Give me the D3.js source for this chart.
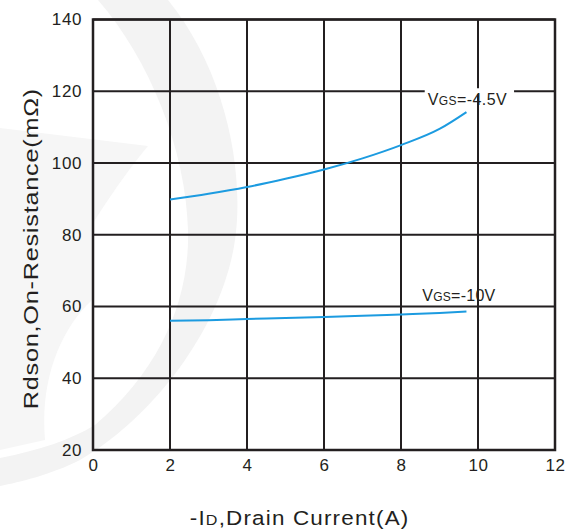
<!DOCTYPE html>
<html>
<head>
<meta charset="utf-8">
<script src="https://cdn.jsdelivr.net/npm/d3@7"></script>
<style>
  body { margin: 0; background: #fff; }
  text { font-family: "Liberation Sans", Arial, sans-serif; fill: #231f20; }
</style>
</head>
<body>
<div id="chart"></div>
<script>
// data
const current = [2, 3, 4, 5, 6, 7, 8, 9, 9.7];
const vgs45 = [89.8, 91.4, 93.3, 95.6, 98.2, 101.3, 105.0, 109.5, 114.2];
const vgs10 = [56.0, 56.2, 56.5, 56.8, 57.1, 57.4, 57.8, 58.2, 58.6];
const xTicks = [0, 2, 4, 6, 8, 10, 12];
const yTicks = [20, 40, 60, 80, 100, 120, 140];

const margin = { top: 19.5, right: 11, bottom: 79, left: 93 };
const W = 566, H = 529;
const width = W - margin.left - margin.right;
const height = H - margin.top - margin.bottom;

const root = d3.select('#chart').append('svg')
  .attr('width', W).attr('height', H);

// faint watermark in the background
root.append('path')
  .attr('d', 'M168,0 C225,70 245,170 235,240 C222,330 150,420 80,460 C50,475 20,482 0,486 ' +
             'L0,458 C40,450 70,440 95,425 C160,370 190,300 188,230 C186,150 150,60 98,0 Z')
  .attr('fill', '#f3f3f3');
root.append('path')
  .attr('d', 'M0,128 L148,146 C120,180 100,212 92,225 L92,300 C60,330 40,380 45,440 L0,450 Z')
  .attr('fill', '#f6f6f6');

const svg = root.append('g')
  .attr('transform', `translate(${margin.left}, ${margin.top})`);

const x = d3.scaleLinear().domain([0, 12]).range([0, width]);
const y = d3.scaleLinear().domain([20, 140]).range([height, 0]);

// grid
svg.append('g').selectAll('line')
  .data(xTicks)
  .join('line')
  .attr('x1', d => x(d)).attr('x2', d => x(d))
  .attr('y1', 0).attr('y2', height)
  .attr('stroke', '#231f20').attr('stroke-width', 2);

svg.append('g').selectAll('line')
  .data(yTicks)
  .join('line')
  .attr('x1', 0).attr('x2', width)
  .attr('y1', d => y(d)).attr('y2', d => y(d))
  .attr('stroke', '#231f20').attr('stroke-width', 2);

svg.append('rect')
  .attr('width', width).attr('height', height)
  .attr('fill', 'none').attr('stroke', '#231f20').attr('stroke-width', 2.5);

// axes (labels only)
const xAxis = svg.append('g')
  .attr('transform', `translate(0, ${height})`)
  .call(d3.axisBottom(x).tickValues(xTicks).tickSize(0).tickPadding(9));
const yAxis = svg.append('g')
  .call(d3.axisLeft(y).tickValues(yTicks).tickSize(0).tickPadding(11));
[xAxis, yAxis].forEach(a => {
  a.select('.domain').remove();
  a.selectAll('text')
    .attr('font-size', 17)
    .attr('letter-spacing', 0.6)
    .attr('font-family', '"Liberation Sans", Arial, sans-serif')
    .attr('fill', '#231f20');
});

// curves
const line = d3.line()
  .x(d => x(d[0]))
  .y(d => y(d[1]))
  .curve(d3.curveMonotoneX);

svg.append('path')
  .datum(d3.zip(current, vgs45))
  .attr('d', line)
  .attr('fill', 'none').attr('stroke', '#1c9be0').attr('stroke-width', 2);

svg.append('path')
  .datum(d3.zip(current, vgs10))
  .attr('d', line)
  .attr('fill', 'none').attr('stroke', '#1c9be0').attr('stroke-width', 2);

// curve labels
function vgsLabel(cx, cy, value, len, knockout) {
  const t = svg.append('text')
    .attr('x', cx).attr('y', cy)
    .attr('text-anchor', 'middle')
    .attr('font-size', 16)
    .attr('textLength', len)
    .attr('lengthAdjust', 'spacing');
  t.append('tspan').text('V');
  t.append('tspan').attr('font-size', 12).text('GS');
  t.append('tspan').text('=' + value);
  if (knockout) {
    const b = t.node().getBBox();
    svg.insert('rect', function () { return t.node(); })
      .attr('x', b.x - 3).attr('y', y(120) - 3)
      .attr('width', b.width + 10).attr('height', 6)
      .attr('fill', '#fff');
  }
}
vgsLabel(x(9.72), y(116.3), '-4.5V', 79, true);
vgsLabel(x(9.5), y(61.5), '-10V', 73, false);

// axis titles: wide glyphs, a bit of extra spacing
const xt = root.append('text')
  .attr('transform', 'translate(299, 525) scale(1.15, 1)')
  .attr('text-anchor', 'middle')
  .attr('font-size', 19.5)
  .attr('textLength', 190)
  .attr('lengthAdjust', 'spacing');
xt.append('tspan').text('-I');
xt.append('tspan').attr('font-size', 14).text('D');
xt.append('tspan').text(',Drain Current(A)');

root.append('text')
  .attr('transform', 'translate(38, 249) rotate(-90) scale(1.2, 1)')
  .attr('text-anchor', 'middle')
  .attr('font-size', 21)
  .attr('textLength', 267)
  .attr('lengthAdjust', 'spacing')
  .text('Rdson,On-Resistance(mΩ)');
</script>
</body>
</html>
